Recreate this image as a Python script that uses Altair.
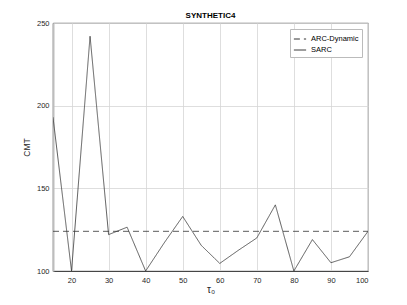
import altair as alt
import pandas as pd

tau0 = [15, 20, 25, 30, 35, 40, 45, 50, 55, 60, 65, 70, 75, 80, 85, 90, 95, 100]
sarc = [193, 100, 242, 122, 126.5, 100, 117, 133, 115.5, 104.6, 112.5, 120, 140, 100, 119, 105, 108.6, 124]
arc_dynamic = 124

rows = []
for t, v in zip(tau0, sarc):
    rows.append({"tau": t, "cmt": v, "series": "SARC"})
for t in [tau0[0], tau0[-1]]:
    rows.append({"tau": t, "cmt": arc_dynamic, "series": "ARC-Dynamic"})
df = pd.DataFrame(rows)

FONT = "Liberation Sans"

chart = alt.Chart(df).mark_line(strokeWidth=0.8, clip=True).encode(
    x=alt.X("tau:Q", scale=alt.Scale(domain=[15, 100], nice=False, zero=False),
            axis=alt.Axis(values=list(range(20, 101, 10)), title="τ₀",
                          titleFontWeight="normal", titleFontSize=10, titlePadding=1)),
    y=alt.Y("cmt:Q", scale=alt.Scale(domain=[100, 250], nice=False, zero=False),
            axis=alt.Axis(values=[100, 150, 200, 250], title="CMT",
                          titleFontWeight="normal", titleFontSize=8.5, titlePadding=5)),
    strokeDash=alt.StrokeDash("series:N",
        scale=alt.Scale(domain=["ARC-Dynamic", "SARC"], range=[[6, 4], [1, 0]]),
        legend=alt.Legend(title=None, orient="top-right", offset=6, symbolType="stroke",
                          symbolStrokeWidth=1.0, symbolSize=150, labelFontSize=7.5,
                          labelFont=FONT, labelColor="#000000", strokeColor="#bbbbbb",
                          fillColor="white", padding=3, rowPadding=0,
                          symbolStrokeColor="#333333")),
    color=alt.value("#333333"),
).properties(
    width=315, height=248,
    title=alt.TitleParams("SYNTHETIC4", fontSize=8, font=FONT, fontWeight="bold",
                          color="#000000", offset=-1),
    autosize=alt.AutoSizeParams(type="none"),
    padding={"left": 45, "top": 15, "right": 31, "bottom": 30},
).configure_view(
    stroke="#262626", strokeWidth=0.8
).configure_axis(
    labelFont=FONT, titleFont=FONT, labelFontSize=7.5, labelColor="#262626",
    titleColor="#262626", gridColor="#d6d6d6", gridWidth=0.8,
    domainColor="#262626", domainWidth=0.8, ticks=False, labelPadding=5
).configure_axisY(domainColor="#bdbdbd", domainWidth=2.0, labelPadding=4)

chart.save("out.html", embed_options={"renderer": "svg", "actions": False})
